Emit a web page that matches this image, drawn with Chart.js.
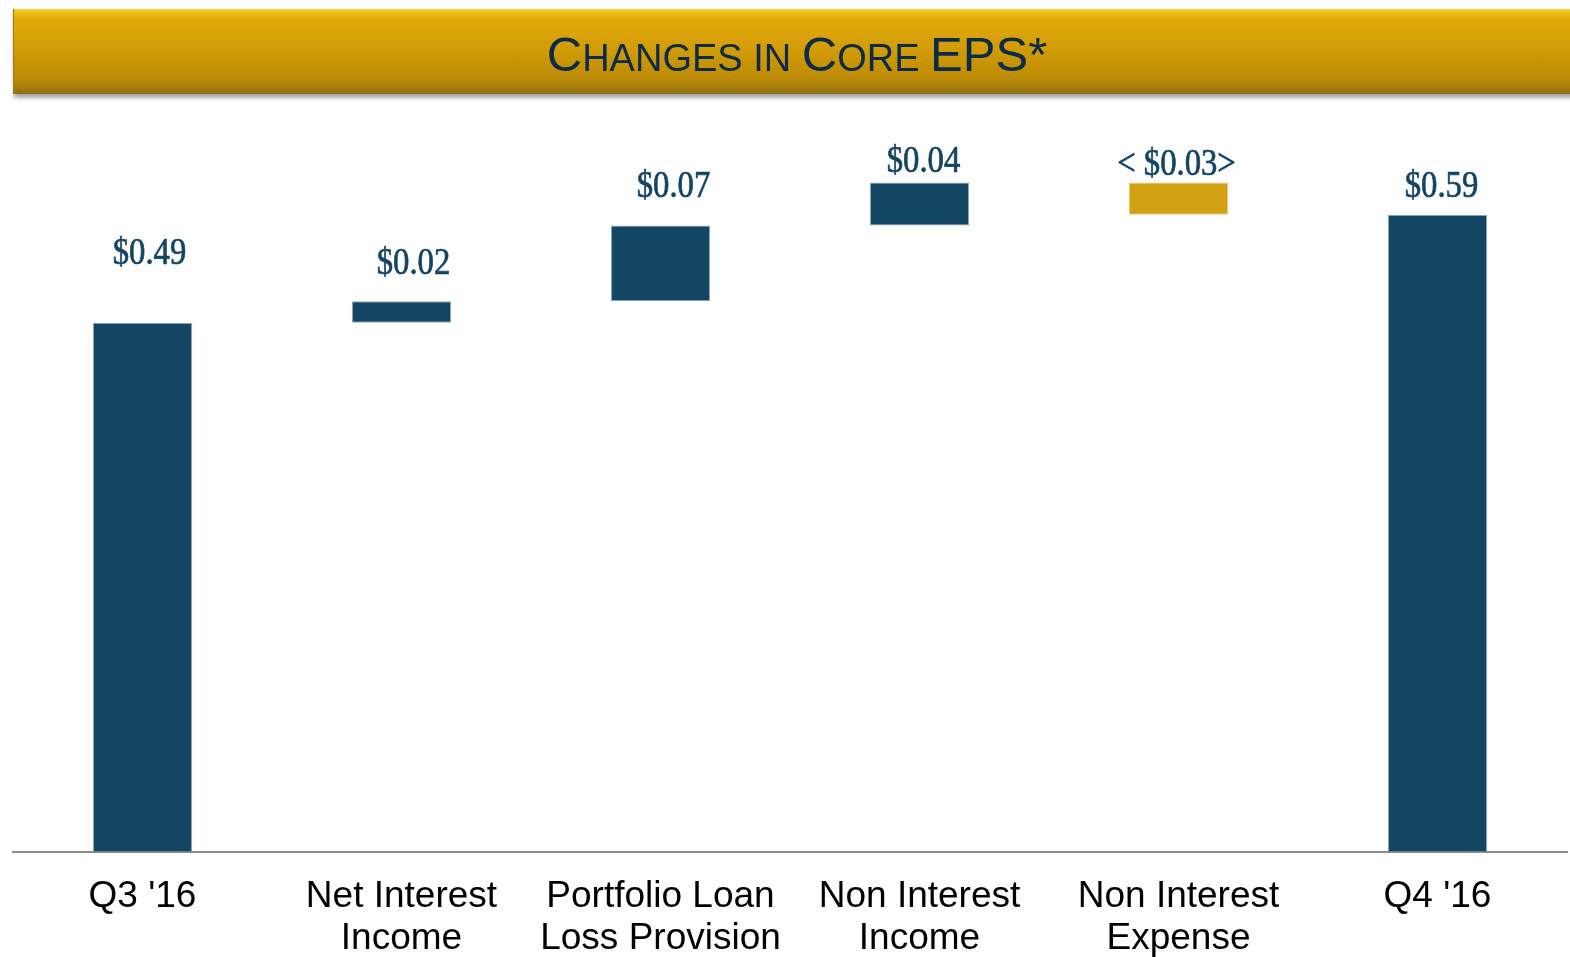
<!DOCTYPE html>
<html>
<head>
<meta charset="utf-8">
<script src="https://cdn.jsdelivr.net/npm/chart.js@4.4.1/dist/chart.umd.min.js"></script>
<style>
  html, body { margin: 0; padding: 0; background: #fff; overflow: hidden; }
  #wrap { position: relative; width: 1570px; height: 957px; overflow: hidden; }
  #epsChart { position: absolute; left: 0; top: 0; }
  .banner {
    position: absolute; left: 13px; top: 9px; width: 1570px; height: 85px;
    background: linear-gradient(to bottom, #f6dc40 0px, #eec11c 3px, #e3aa0b 10px, #d39d07 45%, #be8c05 80%, #a67c0c 93%, #8a6c1c 100%);
    box-shadow: 1px 4px 4px rgba(0,0,0,.35);
    border-left: 1px solid #9a7a10;
    z-index: 2;
  }
  .banner .title {
    position: absolute; left: 0; width: 1566px; top: 17px; text-align: center;
    font-family: "Liberation Sans", Arial, sans-serif; color: #0c2a4a;
    font-size: 38px; line-height: 56px; white-space: nowrap;
  }
  .banner .big { font-size: 49px; }
</style>
</head>
<body>
<div id="wrap">
  <div class="banner"><div class="title"><span class="big">C</span>HANGES IN <span class="big">C</span>ORE <span class="big">EPS*</span></div></div>
  <canvas id="epsChart" width="1570" height="984"></canvas>
</div>
<script>
const categories = [["Q3 '16"], ["Net Interest", "Income"], ["Portfolio Loan", "Loss Provision"], ["Non Interest", "Income"], ["Non Interest", "Expense"], ["Q4 '16"]];
const changes = [0.49, 0.02, 0.07, 0.04, -0.03, 0.59];
const isTotal = [true, false, false, false, false, true];
const valueLabels = ["$0.49", "$0.02", "$0.07", "$0.04", "< $0.03>", "$0.59"];

const NAVY = "#124663";
const GOLD = "#d1a013";

// waterfall: totals start at zero, steps float on the running sum
function buildRanges() {
  let run = 0;
  return changes.map((c, i) => {
    if (isTotal[i]) { run = c; return [0, c]; }
    const from = run;
    run = Math.round((run + c) * 100) / 100;
    return [from, run];
  });
}

const valueLabelPlugin = {
  id: "valueLabels",
  afterDatasetsDraw(chart, args, opts) {
    const ctx = chart.ctx;
    const meta = chart.getDatasetMeta(0);
    meta.data.forEach((bar, i) => {
      const top = Math.min(bar.y, bar.base);
      const nudge = opts.nudge[i];
      ctx.save();
      ctx.translate(bar.x + nudge[0], top - nudge[1]);
      ctx.scale(0.86, 1);
      ctx.font = "38px 'Liberation Serif', 'Times New Roman', serif";
      ctx.fillStyle = "#134563";
      ctx.strokeStyle = "#134563";
      ctx.lineWidth = 0.7;
      ctx.textAlign = "center";
      ctx.textBaseline = "middle";
      ctx.fillText(valueLabels[i], 0, 0);
      ctx.strokeText(valueLabels[i], 0, 0);
      ctx.restore();
    });
  }
};

function renderChart() {
  const ctx = document.getElementById("epsChart").getContext("2d");
  new Chart(ctx, {
    type: "bar",
    data: {
      labels: categories,
      datasets: [{
        data: buildRanges(),
        backgroundColor: changes.map(c => c < 0 ? GOLD : NAVY),
        borderColor: changes.map(c => c < 0 ? "rgba(225,190,90,.8)" : "rgba(90,120,140,.6)"),
        borderWidth: 1,
        borderSkipped: false,
        barPercentage: 1,
        categoryPercentage: 0.384
      }]
    },
    options: {
      responsive: false,
      animation: false,
      devicePixelRatio: 1,
      layout: { padding: { top: 96, left: 13, right: 3, bottom: 0 } },
      plugins: {
        legend: { display: false },
        tooltip: { enabled: false },
        valueLabels: { nudge: [[7, 69], [12, 37], [13, 39], [4, 20], [-2, 17], [4, 28]] }
      },
      scales: {
        x: {
          grid: { display: false, drawTicks: false },
          border: { display: true, color: "#8c8c8c", width: 2 },
          ticks: {
            color: "#000",
            padding: 24,
            maxRotation: 0,
            autoSkip: false,
            font: { family: "'Liberation Sans', Arial, sans-serif", size: 37, lineHeight: "42px" }
          }
        },
        y: { display: false, min: 0, max: 0.7 }
      }
    },
    plugins: [valueLabelPlugin]
  });
}

renderChart();
</script>
</body>
</html>
